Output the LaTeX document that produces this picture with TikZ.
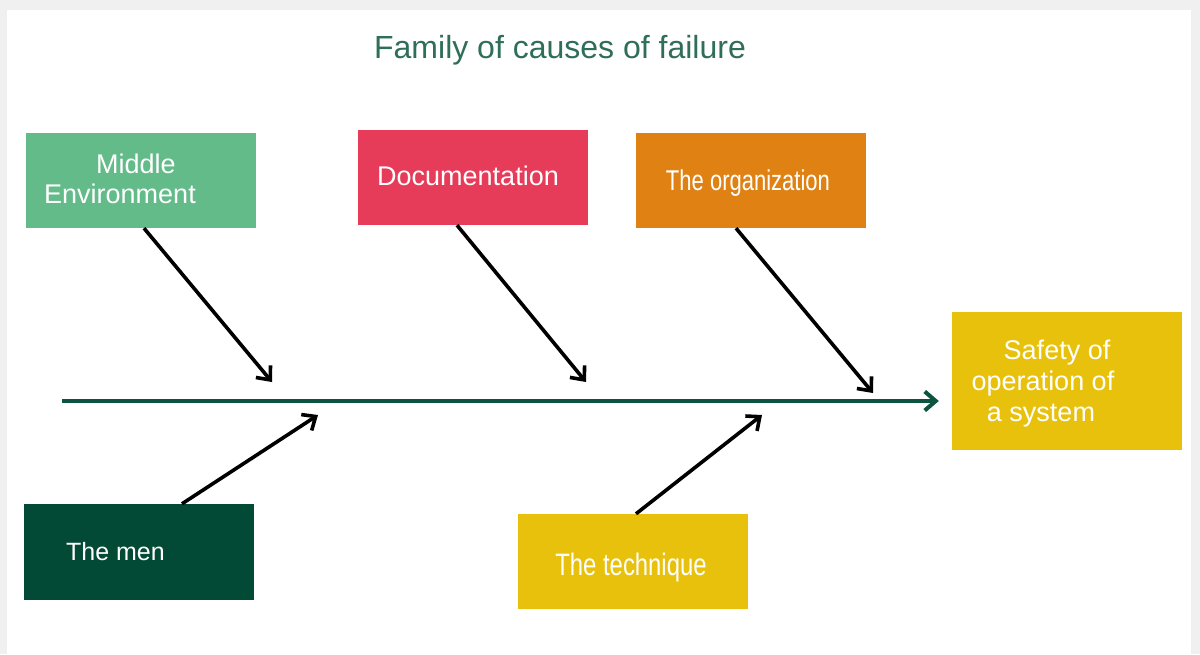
\documentclass[tikz,border=0pt]{standalone}
\usepackage{fontspec}
\setmainfont{Liberation Sans}
\newfontfamily\narrowfont[FakeStretch=0.77]{Liberation Sans}
\usetikzlibrary{arrows.meta}

\definecolor{envgreen}{HTML}{63BB89}
\definecolor{doccrimson}{HTML}{E63C5A}
\definecolor{orgorange}{HTML}{E08213}
\definecolor{techyellow}{HTML}{E8C10C}
\definecolor{mendark}{HTML}{034A36}
\definecolor{spinegreen}{HTML}{0C5340}
\definecolor{titlegreen}{HTML}{2F6E58}

% move text up or down inside its box without changing the box
\newcommand{\nudge}[2]{\raisebox{#1}[\height][\depth]{#2}}

\tikzset{
  causebox/.style={rectangle, minimum width=230pt, minimum height=95pt,
    inner sep=0pt, text=white, align=center,
    font=\fontsize{27}{30}\selectfont},
  bone/.style={line width=3.6pt, black,
    -{Straight Barb[length=11pt,width=19pt,line width=3.6pt]}},
  spine/.style={line width=4pt, spinegreen,
    -{Straight Barb[length=11pt,width=19pt,line width=4pt]}}
}

\begin{document}
\begin{tikzpicture}[x=1pt,y=-1pt]
  \useasboundingbox (0,0) rectangle (1200,654);
  % slide shadow and page
  \fill[gray!12] (0,0) rectangle (1200,654);
  \fill[white] (7,10) rectangle (1191,654);

  % title
  \node[text=titlegreen, font=\fontsize{32}{36}\selectfont] (title) at (560,50) {Family of causes of failure};

  % cause boxes
  \node[causebox, fill=envgreen] (env) at (141,180.5) {\nudge{2pt}{Middle}\hspace*{10pt}\\\nudge{2pt}{Environment}\hspace*{42pt}};
  \node[causebox, fill=doccrimson] (doc) at (473,177.5) {\nudge{2pt}{Documentation}\hspace*{10pt}};
  \node[causebox, fill=orgorange, font=\narrowfont\fontsize{28.6}{30}\selectfont] (org) at (751,180.5) {\nudge{-3pt}{The organization}\hspace*{6pt}};
  \node[causebox, fill=mendark, minimum height=96pt, font=\fontsize{25}{30}\selectfont] (men) at (139,552) {The men\hspace*{47pt}};
  \node[causebox, fill=techyellow, font=\narrowfont\fontsize{31}{34}\selectfont] (tech) at (633,561.5) {\nudge{-6pt}{The technique}\hspace*{4pt}};

  % effect box
  \node[causebox, fill=techyellow, minimum height=138pt,
    label={[text=white, align=center, font=\fontsize{27}{31}\selectfont, xshift=-24pt, yshift=-3pt]center:\hspace*{28pt}Safety of\\operation of\\\hspace*{-4pt}a system}]
    (safety) at (1067,381) {};

  % spine of the diagram
  \coordinate (tail) at (62,401);
  \draw[spine, shorten >=13pt] (tail) -- (safety.west |- tail);

  % arrow heads on the spine
  \coordinate (h1) at (272,382);
  \coordinate (h2) at (586,382);
  \coordinate (h3) at (873,393);
  \coordinate (h4) at (318,415);
  \coordinate (h5) at (762,415);

  % bones
  \draw[bone] ([xshift=3pt]env.south) -- (h1);
  \draw[bone] ([xshift=-16pt]doc.south) -- (h2);
  \draw[bone] ([xshift=-15pt]org.south) -- (h3);
  \draw[bone] ([xshift=43pt]men.north) -- (h4);
  \draw[bone] ([xshift=3pt]tech.north) -- (h5);
\end{tikzpicture}
\end{document}
